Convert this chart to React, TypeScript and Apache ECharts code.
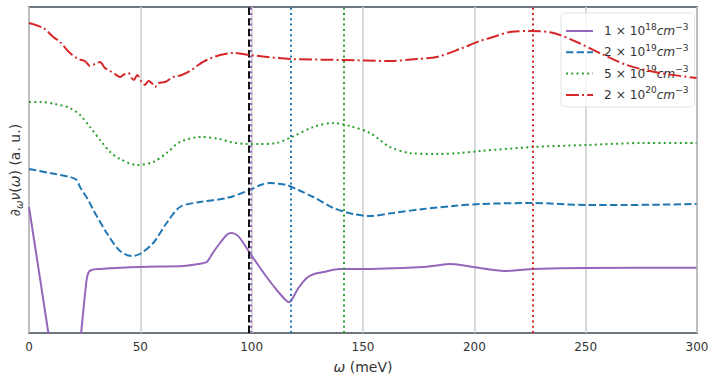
import React, { useEffect, useRef } from "react";
import * as echarts from "echarts";

const xTicks = [0, 50, 100, 150, 200, 250, 300];
const seriesNames = ["n1e18", "n2e19", "n5e19", "n2e20"];
const legendMantissa = ["1", "2", "5", "2"];
const legendExponent = ["18", "19", "19", "20"];
const seriesColors = ["#9467bd", "#1f77b4", "#2ca02c", "#d62728"];
const seriesLineTypes: any[] = ["solid", [7.4, 3.2], [2, 3.3], [12.8, 3.2, 2, 3.2]];
const vlinePositions = [99.7, 117.5, 141.4, 226.2];
const blackLinePosition = 98.8;

const purpleData = [
  [0, 126], [8.7, 0], [10, -20], [22.5, -20], [23.4, 0], [25.8, 52], [26.6, 60], [28, 63],
  [31.9, 64], [49.8, 66], [69.3, 67], [76, 69], [79.8, 71], [82.5, 80], [85.8, 90],
  [89, 98.5], [91, 100], [93, 98.5], [94.7, 95], [99.2, 80], [106.7, 56], [112, 41],
  [115.7, 32], [117, 31], [118.7, 36], [121, 45], [124.7, 55], [128, 59], [132.2, 61],
  [139.7, 64], [148.6, 64], [177.1, 66], [183, 67.5], [189, 69], [194, 68], [199.5, 66],
  [207, 63.5], [214.5, 62], [220, 63], [226.5, 64], [250.4, 65], [299.8, 65.3],
];

const blueData = [
  [0, 164], [9.4, 160], [18.4, 156], [21.4, 153], [22.9, 146], [26.6, 133], [28.9, 123],
  [34.9, 100], [40.9, 82], [46.1, 77], [49.8, 79], [55.8, 90], [61.8, 110], [67.8, 126],
  [76.8, 131], [88.8, 135], [99.2, 143], [104, 148], [108.2, 150], [111, 149.5],
  [115.7, 148], [121, 143], [127.7, 136], [136.7, 125], [145.6, 119], [153.1, 117],
  [163.6, 120], [177.1, 124], [190.5, 127], [202.5, 129], [226.5, 130], [250.4, 128],
  [266.9, 128], [299.8, 129],
];

const greenData = [
  [0, 231], [4.9, 231], [11.7, 229], [18.4, 225], [22.9, 218], [27.4, 206], [31.9, 193],
  [36.4, 181], [40.9, 174], [48.4, 168], [55.8, 171], [61.8, 180], [67.8, 191],
  [76.8, 196], [85.8, 194], [90.2, 191], [97.8, 189], [103.7, 189], [111.2, 190],
  [118, 196], [127.7, 206], [136.7, 210], [144.1, 207], [153.1, 200], [162.1, 186],
  [171.1, 180], [183.1, 179], [193.5, 180], [202.5, 182], [226.5, 186], [250.4, 188],
  [275.8, 190], [299.8, 190],
];

const redData = [
  [0, 310], [6.4, 305], [10.9, 296], [13.9, 291], [18.4, 280], [22.1, 274], [25.1, 272],
  [27.4, 267], [29.6, 269], [31.9, 271], [34.1, 265], [36.4, 262], [38.6, 259],
  [40.9, 256], [42.3, 258], [44.6, 260], [46.1, 255], [47.1, 253], [48.6, 258],
  [50.6, 251], [52.1, 248], [53.6, 252], [55.1, 250], [56.6, 246], [58.1, 250],
  [61.1, 251], [64.8, 256], [68.6, 258], [72.3, 262], [76, 268], [79.8, 273],
  [85.8, 278], [91.7, 280], [99.2, 278], [107, 276], [117.2, 274], [141.1, 273],
  [162.1, 272], [174.1, 274], [183.1, 276], [193.5, 284], [202.5, 292], [208.5, 296],
  [216, 301], [225, 302], [235.5, 300], [246, 291], [256.4, 280], [268.4, 268],
  [283.3, 260], [299.8, 255],
];

const allData = [purpleData, blueData, greenData, redData];

export default function App() {
  const ref = useRef<HTMLDivElement>(null);
  useEffect(() => {
    document.body.style.margin = "0";
    if (!ref.current) return;
    const chart = echarts.init(ref.current, undefined, { renderer: "svg" });
    const font = "DejaVu Sans";
    const series = allData.map((d, i) => {
      const markData: any[] = [
        {
          xAxis: vlinePositions[i],
          lineStyle: { color: seriesColors[i], type: [2, 3.3], width: 2 },
        },
      ];
      if (i === 3) {
        markData.unshift({
          xAxis: blackLinePosition,
          lineStyle: { color: "#111111", type: [7.4, 3.2], width: 2 },
        });
      }
      return {
        name: seriesNames[i],
        type: "line",
        data: d,
        showSymbol: false,
        symbol: "none",
        smooth: 0.3,
        clip: true,
        lineStyle: { color: seriesColors[i], width: 2, type: seriesLineTypes[i] },
        itemStyle: { color: seriesColors[i] },
        z: 2 + i,
        markLine: {
          silent: true,
          symbol: ["none", "none"],
          label: { show: false },
          animation: false,
          data: markData,
        },
      };
    });
    chart.setOption({
      animation: false,
      backgroundColor: "#ffffff",
      grid: {
        left: 29,
        right: 18,
        top: 7,
        bottom: 48,
        outerBoundsMode: "none",
        containLabel: false,
        show: true,
        borderColor: "#6e7780",
        borderWidth: 2,
        backgroundColor: "transparent",
      },
      xAxis: {
        type: "value",
        min: 0,
        max: 300,
        interval: 50,
        axisLine: { show: false },
        axisTick: { show: false },
        axisLabel: {
          color: "#333333",
          fontFamily: font,
          fontSize: 12,
          margin: 8,
          formatter: (v: number) => (xTicks.includes(v) ? String(v) : ""),
        },
        splitLine: { show: true, lineStyle: { color: "#d0d0d0", width: 1.6 } },
        name: "{i|ω} (meV)",
        nameLocation: "middle",
        nameGap: 27,
        nameTextStyle: {
          color: "#333333",
          fontFamily: font,
          fontSize: 14,
          rich: {
            i: { fontStyle: "italic", fontFamily: font, fontSize: 14, color: "#333333" },
          },
        },
      },
      yAxis: {
        type: "value",
        min: 0,
        max: 326,
        axisLine: { show: false },
        axisTick: { show: false },
        axisLabel: { show: false },
        splitLine: { show: false },
        name: "∂{sub|ω}{i|ν}({i|ω}) (a. u.)",
        nameLocation: "middle",
        nameGap: 5,
        nameRotate: 90,
        nameTextStyle: {
          color: "#333333",
          fontFamily: font,
          fontSize: 14,
          lineHeight: 18,
          rich: {
            sub: { fontSize: 10, fontStyle: "italic", fontFamily: font, color: "#333333", verticalAlign: "bottom", lineHeight: 12 },
            i: { fontStyle: "italic", fontFamily: font, fontSize: 14, color: "#333333", lineHeight: 18 },
          },
        },
      },
      legend: {
        orient: "vertical",
        left: 561,
        top: 13,
        padding: [9, 6, 6, 4],
        itemGap: 6.3,
        itemWidth: 27,
        itemHeight: 14,
        backgroundColor: "rgba(255,255,255,0.8)",
        borderColor: "#e4e4e4",
        borderWidth: 1,
        borderRadius: 4,
        itemStyle: { opacity: 0 },
        data: seriesNames,
        formatter: (name: string) => {
          const i = seriesNames.indexOf(name);
          return `{m|${legendMantissa[i]} × 10}{s|${legendExponent[i]}}{c|cm}{s|−3}`;
        },
        textStyle: {
          color: "#333333",
          fontFamily: font,
          fontSize: 12.2,
          padding: [0, 0, 0, 6],
          rich: {
            m: { fontSize: 12.2, fontFamily: font, color: "#333333", lineHeight: 18 },
            c: { fontSize: 12.2, fontFamily: font, fontStyle: "italic", color: "#333333", lineHeight: 18 },
            s: { fontSize: 9, fontFamily: font, color: "#333333", verticalAlign: "top", lineHeight: 12 },
          },
        },
      },
      series,
    });
    return () => chart.dispose();
  }, []);
  return <div ref={ref} style={{ width: 715, height: 381 }} />;
}
